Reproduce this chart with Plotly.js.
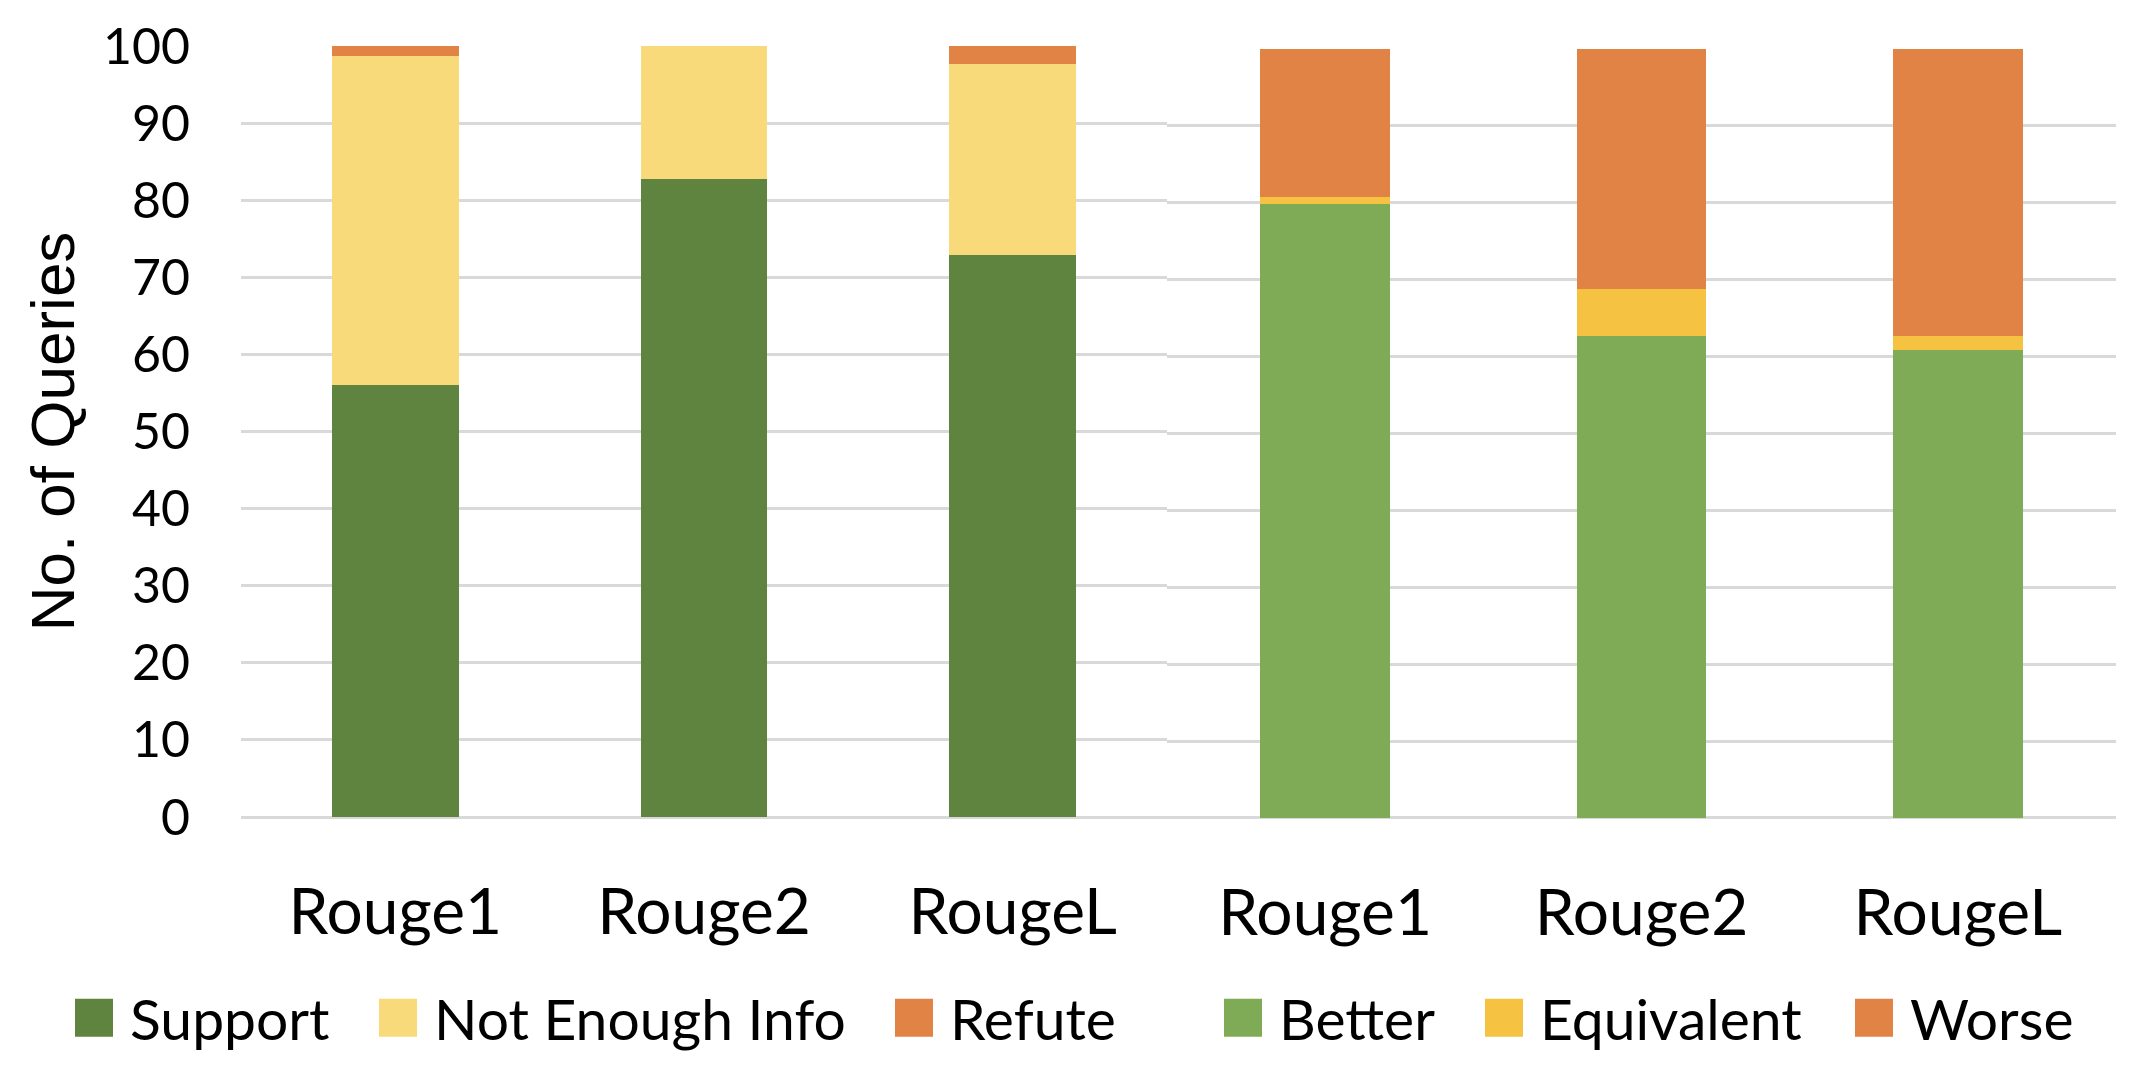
<!DOCTYPE html>
<html>
<head>
<meta charset="utf-8">
<script src="https://cdn.plot.ly/plotly-3.0.1.min.js"></script>
<style>
  html, body { margin: 0; padding: 0; background: #fff; }
  #chart { width: 2140px; height: 1074px; }
</style>
</head>
<body>
<div id="chart"></div>
<script>
// data (percent of queries)
const categories = ['Rouge1', 'Rouge2', 'RougeL'];
const support = [56, 82.8, 72.9];
const notEnoughInfo = [42.7, 17.2, 24.8];
const refute = [1.3, 0, 2.3];
const better = [79.8, 62.7, 60.8];
const equivalent = [0.9, 6.1, 1.9];
const worse = [19.3, 31.2, 37.3];

const W = 2140, H = 1074;
const M = { l: 241, r: 24, t: 46, b: 245 };
const plotW = W - M.l - M.r;
const plotH = H - M.t - M.b;

const gridColor = '#d9d9d9';

function bar(name, values, color, xa, ya, legend) {
    return {
        type: 'bar',
        name: name,
        x: categories,
        y: values,
        xaxis: xa,
        yaxis: ya,
        legend: legend,
        marker: { color: color, line: { width: 0 } },
        hoverinfo: 'skip'
    };
}

const traces = [
    bar('Support', support, '#5f843f', 'x', 'y', 'legend'),
    bar('Not Enough Info', notEnoughInfo, '#f8da7a', 'x', 'y', 'legend2'),
    bar('Refute', refute, '#e08344', 'x', 'y', 'legend3'),
    bar('Better', better, '#7fab57', 'x2', 'y2', 'legend4'),
    bar('Equivalent', equivalent, '#f5c242', 'x2', 'y2', 'legend5'),
    bar('Worse', worse, '#e08345', 'x2', 'y2', 'legend6')
];

// one legend per entry so the spacing follows the reference
const itemW = 62;
function legendAt(textLeftPx) {
    return {
        orientation: 'h',
        x: (textLeftPx - (itemW + 10) - M.l) / plotW,
        xanchor: 'left',
        y: (H - M.b - 1032) / plotH,
        yanchor: 'middle',
        itemwidth: itemW,
        bgcolor: 'rgba(0,0,0,0)',
        borderwidth: 0,
        font: { family: 'Lato, sans-serif', size: 57, color: '#000' }
    };
}

const yCommon = {
    range: [0, 100],
    dtick: 10,
    showgrid: true,
    gridcolor: gridColor,
    gridwidth: 2.5,
    zeroline: true,
    zerolinecolor: gridColor,
    zerolinewidth: 2.5,
    showline: false,
    ticks: '',
    fixedrange: true
};

const xCommon = {
    type: 'category',
    range: [-0.5, 2.5],
    showgrid: false,
    zeroline: false,
    showline: false,
    ticks: '',
    ticklabelstandoff: 52,
    tickfont: { family: 'Lato, sans-serif', size: 64, color: '#000' },
    fixedrange: true
};

const split = (1167 - M.l) / plotW;

const layout = {
    width: W,
    height: H,
    margin: M,
    paper_bgcolor: '#fff',
    plot_bgcolor: '#fff',
    barmode: 'stack',
    bargap: 0.59,
    showlegend: true,
    xaxis: Object.assign({}, xCommon, { domain: [0, split], anchor: 'y' }),
    xaxis2: Object.assign({}, xCommon, { domain: [split, 1], anchor: 'y2' }),
    yaxis: Object.assign({}, yCommon, {
        domain: [(H - M.b - 828) / plotH, 1],
        anchor: 'x',
        ticklabelstandoff: 50,
        tickfont: { family: 'Lato, sans-serif', size: 50, color: '#000' },
        title: {
            text: 'No. of Queries',
            standoff: 8,
            font: { family: 'Liberation Sans, Arial, sans-serif', size: 62, color: '#000' }
        }
    }),
    yaxis2: Object.assign({}, yCommon, {
        domain: [0, (H - M.b - 49) / plotH],
        anchor: 'x2',
        showticklabels: false
    }),
    legend: legendAt(130),
    legend2: legendAt(434),
    legend3: legendAt(950),
    legend4: legendAt(1279),
    legend5: legendAt(1540),
    legend6: legendAt(1910)
};

// bigger legend swatches, like the reference
function growSwatches() {
    document.querySelectorAll('.legendpoints path').forEach(p => {
        p.setAttribute('d', 'M19,19H-19V-19H19Z');
    });
}

Plotly.newPlot('chart', traces, layout, { displayModeBar: false, responsive: false }).then(() => {
    growSwatches();
    setTimeout(growSwatches, 50);
});
</script>
</body>
</html>
